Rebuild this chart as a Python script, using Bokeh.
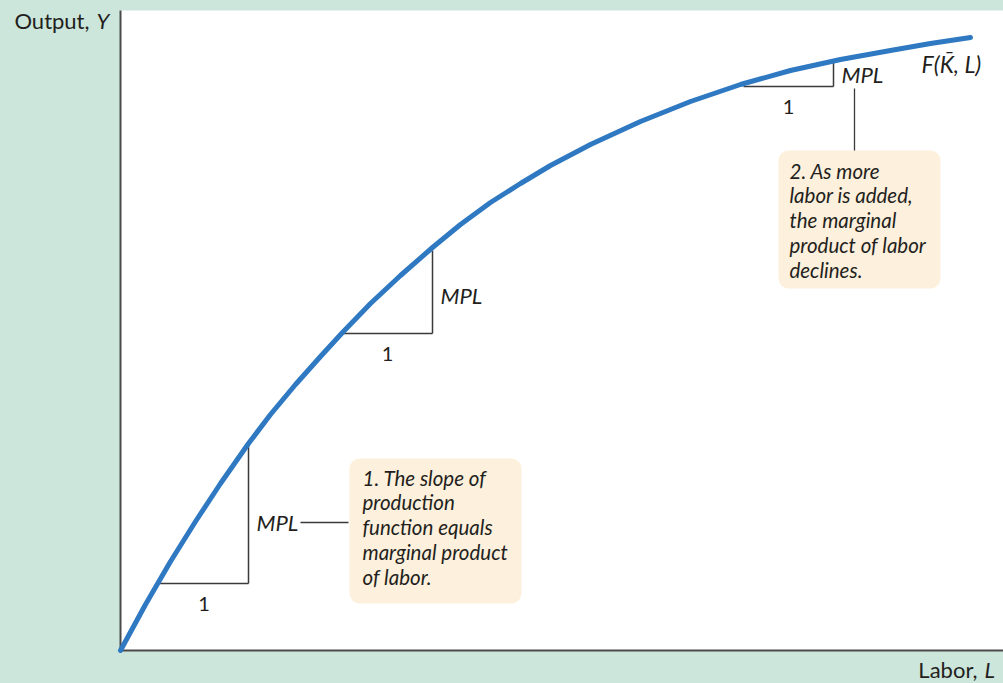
from bokeh.plotting import figure
from bokeh.models import Range1d, BoxAnnotation
from bokeh.core.properties import value
from bokeh.embed import file_html
from bokeh.resources import INLINE

# Production function F(K, L): labor vs output
labor = [0, 25, 50, 75, 100, 128, 150, 175, 200, 222, 250, 280, 312, 340,
         370, 400, 430, 470, 520, 570, 620, 670, 720, 770, 810, 850]
output = [0, 46, 89, 129, 167, 207, 236, 266, 294, 318, 347, 375, 403, 426,
          448, 467, 485, 506, 529, 549, 566, 580, 591, 600, 607, 613]

# MPL triangles: base start, base end, base level, top on the curve
tri_x0 = [39, 222, 623]
tri_x1 = [128, 312, 713]
tri_y0 = [67, 317, 564]
tri_y1 = [205, 400, 589]
mpl_y = [128, 355, 576]
unit_labels = ["1", "1", "1"]
mpl_labels = ["MPL", "MPL", "MPL"]

note1 = "1. The slope of\nproduction\nfunction equals\nmarginal product\nof labor."
note2 = "2. As more\nlabor is added,\nthe marginal\nproduct of labor\ndeclines."
curve_label = "F(K\u0304, L)"
y_title = ["Output,", "Y"]
x_title = ["Labor,", "L"]

TEAL = "#cce6dc"
BLUE = "#2f78c2"
INK = "#231f20"
AXIS = "#4a4a4a"
NOTE_BG = "#fdf0dc"
FONT = "Lato"

p = figure(width=1003, height=683, x_range=Range1d(-120, 883), y_range=Range1d(-33, 650),
           output_backend="svg", toolbar_location=None,
           x_axis_type=None, y_axis_type=None,
           min_border_left=0, min_border_right=0, min_border_top=0, min_border_bottom=0,
           background_fill_color=TEAL, border_fill_color=TEAL, outline_line_color=None)

# white plotting area
p.add_layout(BoxAnnotation(left=0, right=883, bottom=0, top=640, fill_color="white",
                           fill_alpha=1, line_color=None, level="underlay"))
# note boxes
p.add_layout(BoxAnnotation(left=229, right=401, bottom=47, top=192, fill_color=NOTE_BG,
                           fill_alpha=1, line_color=None, border_radius=10, level="underlay"))
p.add_layout(BoxAnnotation(left=658, right=820, bottom=362, top=500, fill_color=NOTE_BG,
                           fill_alpha=1, line_color=None, border_radius=10, level="underlay"))

# axes
p.segment(x0=[0, 0], y0=[0, 0], x1=[0, 883], y1=[640, 0], line_color=AXIS, line_width=2)

# triangles
p.segment(x0=tri_x0, y0=tri_y0, x1=tri_x1, y1=tri_y0, line_color="#3a3a3a", line_width=1.5)
p.segment(x0=tri_x1, y0=tri_y0, x1=tri_x1, y1=tri_y1, line_color="#3a3a3a", line_width=1.5)

# leader lines
p.segment(x0=[180, 734], y0=[128, 562], x1=[228, 734], y1=[128, 500],
          line_color="#3a3a3a", line_width=1.3)

# curve
p.line(labor, output, line_width=5, line_color=BLUE, line_join="round", line_cap="round")

mid_x = [(a + b) / 2 for a, b in zip(tri_x0, tri_x1)]
p.text(x=mid_x, y=tri_y0, text=unit_labels, y_offset=20, text_align="center",
       text_baseline="middle", text_font=value(FONT), text_font_size="20px", text_color=INK)
p.text(x=tri_x1, y=mpl_y, text=mpl_labels, x_offset=8, text_align="left",
       text_baseline="middle", text_font=value(FONT), text_font_style="italic",
       text_font_size="22px", text_color=INK)

p.text(x=[242], y=[185], text=[note1], text_align="left", text_baseline="top",
       text_font=value(FONT), text_font_style="italic", text_font_size="20.5px",
       text_line_height=1.04, text_color=INK)
p.text(x=[669], y=[492], text=[note2], text_align="left", text_baseline="top",
       text_font=value(FONT), text_font_style="italic", text_font_size="20.5px",
       text_line_height=1.04, text_color=INK)

p.text(x=[801], y=[587], text=[curve_label], text_align="left", text_baseline="middle",
       text_font=value(FONT), text_font_style="italic", text_font_size="23px", text_color=INK)

# axis titles
p.text(x=[-31], y=[630], text=[y_title[0]], text_align="right", text_baseline="middle",
       text_font=value(FONT), text_font_size="22px", text_color=INK)
p.text(x=[-24], y=[630], text=[y_title[1]], text_align="left", text_baseline="middle",
       text_font=value(FONT), text_font_style="italic", text_font_size="22px", text_color=INK)
p.text(x=[857], y=[-19], text=[x_title[0]], text_align="left" if False else "right",
       text_baseline="middle", text_font=value(FONT), text_font_size="22px", text_color=INK)
p.text(x=[864], y=[-19], text=[x_title[1]], text_align="left", text_baseline="middle",
       text_font=value(FONT), text_font_style="italic", text_font_size="22px", text_color=INK)

template = """{% block inner_head %}{{ super() }}
<style>html, body { margin: 0 !important; padding: 0; background: #cce6dc; overflow: hidden; }</style>
{% endblock %}"""

open("out.html", "w").write(file_html(p, INLINE, template=template))
